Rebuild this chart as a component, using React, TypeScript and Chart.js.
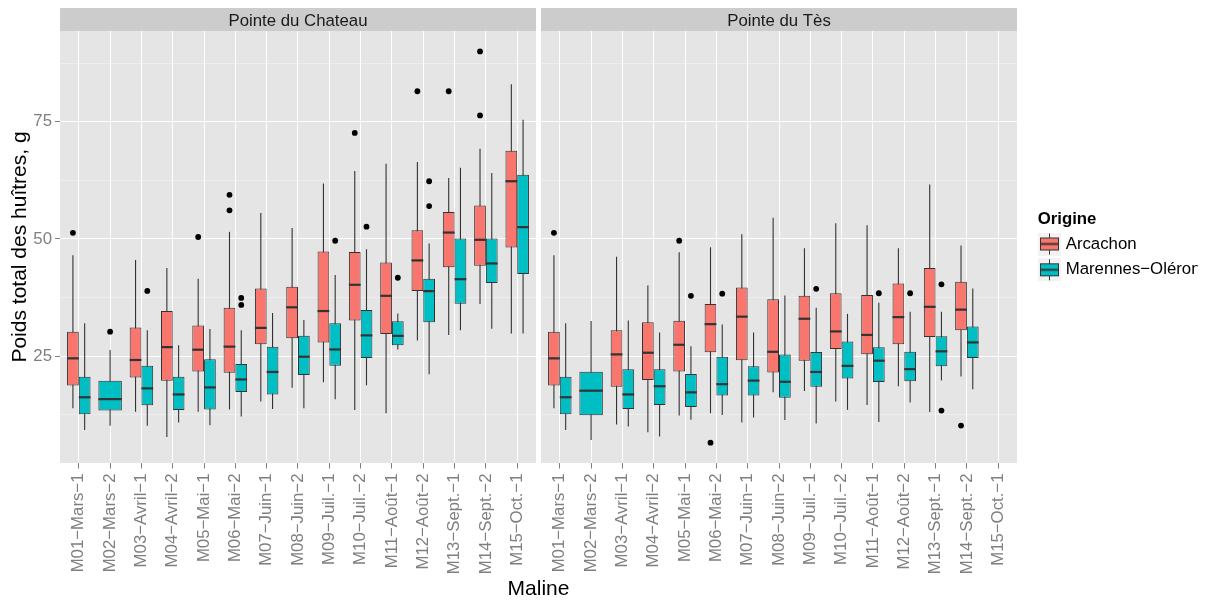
import { useEffect, useRef } from 'react';
import { Chart, registerables } from 'chart.js';

Chart.register(...registerables);

// [lower whisker, Q1, median, Q3, upper whisker]
type Box = [number, number, number, number, number] | null;

const maline = [
  'M01−Mars−1', 'M02−Mars−2', 'M03−Avril−1', 'M04−Avril−2', 'M05−Mai−1',
  'M06−Mai−2', 'M07−Juin−1', 'M08−Juin−2', 'M09−Juil.−1', 'M10−Juil.−2',
  'M11−Août−1', 'M12−Août−2', 'M13−Sept.−1', 'M14−Sept.−2', 'M15−Oct.−1',
];
const panelNames = ['Pointe du Chateau', 'Pointe du Tès'];
const origins = ['Arcachon', 'Marennes−Oléron'];
const yTickValues = [12.5, 25, 37.5, 50, 62.5, 75, 87.5];
const yLabelledValues = [25, 50, 75];

const chateauArcachon: Box[] = [
  [13.85, 18.7, 24.5, 30.2, 46.5],
  null,
  [13.1, 20.4, 24.15, 31.1, 45.5],
  [7.7, 19.7, 26.9, 34.6, 43.8],
  [13.1, 21.7, 26.35, 31.5, 41.5],
  [13.6, 21.45, 27.0, 35.3, 51.5],
  [15.3, 27.5, 31.0, 39.4, 55.5],
  [18.25, 28.8, 35.4, 39.8, 52.3],
  [19.4, 27.9, 34.6, 47.3, 61.8],
  [13.5, 32.6, 40.2, 47.2, 64.5],
  [12.8, 29.7, 37.85, 44.95, 66.05],
  [28.3, 38.85, 45.4, 51.85, 66.4],
  [29.5, 43.95, 51.35, 55.75, 63.0],
  [36.1, 44.25, 49.8, 57.1, 69.25],
  [29.8, 48.15, 62.3, 68.8, 83.0],
];
const chateauArcachonOutliers: number[][] = [
  [51.3], [], [], [], [50.4], [59.4, 56.1], [], [], [], [72.6], [], [81.5], [81.5], [90.0, 76.35], [],
];

const chateauMarennes: Box[] = [
  [9.2, 12.6, 16.2, 20.6, 32.0],
  [10.1, 13.35, 15.8, 19.7, 26.3],
  [10.1, 14.5, 18.1, 22.9, 30.5],
  [10.8, 13.5, 16.8, 20.6, 27.3],
  [10.2, 13.6, 18.3, 24.3, 30.75],
  [12.1, 17.3, 20.0, 23.3, 30.5],
  [13.7, 16.8, 21.6, 27.0, 34.2],
  [13.85, 20.95, 24.85, 29.3, 32.7],
  [15.8, 22.9, 26.4, 32.0, 42.3],
  [18.75, 24.6, 29.4, 34.8, 47.8],
  [26.4, 27.3, 29.3, 32.4, 34.1],
  [21.1, 32.2, 38.85, 41.5, 49.0],
  [30.5, 36.15, 41.4, 50.1, 65.2],
  [30.8, 40.6, 44.75, 50.1, 64.05],
  [29.8, 42.5, 52.5, 63.7, 75.4],
];
const chateauMarennesOutliers: number[][] = [
  [], [30.2], [38.9], [], [], [37.4, 35.9], [], [], [49.6], [52.6], [41.7], [62.3, 57.0], [], [], [],
];

const tesArcachon: Box[] = [
  [13.85, 18.7, 24.5, 30.2, 46.5],
  null,
  [10.4, 18.45, 25.35, 30.5, 46.2],
  [8.75, 19.9, 25.7, 32.2, 40.05],
  [12.3, 21.7, 27.4, 32.5, 47.15],
  [12.8, 25.8, 31.8, 36.1, 48.2],
  [10.8, 24.1, 33.4, 39.6, 51.0],
  [17.25, 21.5, 25.9, 37.1, 54.5],
  [17.55, 24.0, 32.95, 37.85, 48.0],
  [15.3, 26.5, 30.25, 38.4, 53.35],
  [14.55, 25.4, 29.5, 38.0, 52.9],
  [18.55, 27.5, 33.3, 40.5, 48.0],
  [13.05, 29.05, 35.5, 43.8, 61.6],
  [20.65, 30.5, 34.9, 40.85, 48.6],
  null,
];
const tesArcachonOutliers: number[][] = [
  [51.3], [], [], [], [49.6], [6.5], [], [], [], [], [], [], [], [10.15], [],
];

const tesMarennes: Box[] = [
  [9.2, 12.6, 16.2, 20.6, 32.0],
  [7.1, 12.35, 17.6, 21.65, 32.45],
  [9.95, 13.7, 16.8, 22.2, 32.6],
  [7.8, 14.55, 18.55, 22.2, 30.0],
  [11.4, 14.1, 17.25, 21.15, 27.1],
  [12.4, 16.55, 19.0, 24.85, 31.75],
  [11.9, 16.55, 19.75, 22.8, 30.0],
  [11.35, 16.1, 19.5, 25.35, 37.9],
  [10.6, 18.45, 21.6, 25.85, 35.3],
  [13.5, 20.2, 22.9, 28.1, 34.0],
  [10.9, 19.45, 24.0, 26.85, 36.35],
  [15.1, 19.6, 22.2, 25.9, 34.45],
  [19.8, 22.8, 26.0, 29.2, 34.45],
  [17.9, 24.6, 27.9, 31.3, 39.4],
  null,
];
const tesMarennesOutliers: number[][] = [
  [], [], [], [], [37.85], [38.3], [], [], [39.35], [], [38.4], [38.4], [40.3, 13.35], [], [],
];

// per origin: one array per facet panel (Chateau, Tès)
const boxesByOrigin = [
  [chateauArcachon, tesArcachon],
  [chateauMarennes, tesMarennes],
];
const outliersByOrigin = [
  [chateauArcachonOutliers, tesArcachonOutliers],
  [chateauMarennesOutliers, tesMarennesOutliers],
];

// facet layout on one continuous axis: each panel spans n-1 categories plus 0.6 on each side,
// and the panels are separated by a small gap (in category units)
const EXPAND = 0.6;
const PANEL_GAP = 0.16;
const FACET_OFFSET = maline.length - 1 + 2 * EXPAND + PANEL_GAP;
const facetX = (panel: number, i: number) => panel * FACET_OFFSET + i;

const fills = ['#F8766D', '#00BFC4'];
const outline = '#333333';
const axisGrey = '#7F7F7F';
const fontFamily = "'Liberation Sans', Arial, Helvetica, sans-serif";
const TARGET = { left: 60, top: 31, right: 1017, bottom: 463 };

Chart.defaults.font.family = fontFamily;

const isMajor = (v: any) => yLabelledValues.includes(Number(v));

type Point = { x: number; box: Box; out: number[] };
const pointsByOrigin: Point[][] = boxesByOrigin.map((panels, o) =>
  panels.flatMap((boxes, p) =>
    boxes.map((box, i) => ({ x: facetX(p, i), box, out: outliersByOrigin[o][p][i] })),
  ),
);
const tickPositions = panelNames.flatMap((_, p) => maline.map((_, i) => facetX(p, i)));

function eachBox(chart: any, fn: (x: number, w: number, b: number[], out: number[]) => void) {
  pointsByOrigin.forEach((pts, di) => {
    const meta = chart.getDatasetMeta(di);
    pts.forEach((pt, k) => {
      if (!pt.box) return;
      const el: any = meta.data[k];
      if (!el) return;
      fn(el.x, el.width, pt.box, pt.out);
    });
  });
}

const panelPlugin = {
  id: 'panelBackground',
  beforeDraw(chart: any) {
    const { ctx, chartArea } = chart;
    const x = chart.scales.x;
    ctx.save();
    ctx.fillStyle = '#E5E5E5';
    panelNames.forEach((_, p) => {
      const l = x.getPixelForValue(facetX(p, 0) - EXPAND);
      const r = x.getPixelForValue(facetX(p, maline.length - 1) + EXPAND);
      ctx.fillRect(l, chartArea.top, r - l, chartArea.bottom - chartArea.top);
    });
    ctx.restore();
  },
};

const boxPartsPlugin = {
  id: 'boxParts',
  beforeDatasetsDraw(chart: any) {
    const { ctx, chartArea } = chart;
    const x = chart.scales.x;
    const y = chart.scales.y;
    ctx.save();
    // white gutter between the two facets
    const gl = x.getPixelForValue(facetX(0, maline.length - 1) + EXPAND);
    const gr = x.getPixelForValue(facetX(1, 0) - EXPAND);
    ctx.fillStyle = '#FFFFFF';
    ctx.fillRect(gl, chartArea.top, gr - gl, chartArea.bottom - chartArea.top);
    ctx.strokeStyle = outline;
    ctx.lineWidth = 1.1;
    eachBox(chart, (bx, _w, b) => {
      ctx.beginPath();
      ctx.moveTo(bx, y.getPixelForValue(b[0]));
      ctx.lineTo(bx, y.getPixelForValue(b[4]));
      ctx.stroke();
    });
    ctx.restore();
  },
  afterDatasetsDraw(chart: any) {
    const { ctx } = chart;
    const y = chart.scales.y;
    ctx.save();
    ctx.strokeStyle = outline;
    ctx.lineWidth = 2.2;
    eachBox(chart, (bx, w, b) => {
      const py = y.getPixelForValue(b[2]);
      ctx.beginPath();
      ctx.moveTo(bx - w / 2, py);
      ctx.lineTo(bx + w / 2, py);
      ctx.stroke();
    });
    ctx.fillStyle = '#000000';
    eachBox(chart, (bx, _w, _b, out) => {
      out.forEach((v) => {
        ctx.beginPath();
        ctx.arc(bx, y.getPixelForValue(v), 2.9, 0, Math.PI * 2);
        ctx.fill();
      });
    });
    ctx.restore();
  },
};

function makeKey(fill: string) {
  const c = document.createElement('canvas');
  c.width = 40;
  c.height = 23;
  const g = c.getContext('2d')!;
  const o = 6;
  g.fillStyle = '#F2F2F2';
  g.fillRect(o, 0, 23, 23);
  g.strokeStyle = outline;
  g.lineWidth = 1;
  g.beginPath();
  g.moveTo(o + 11.5, 1);
  g.lineTo(o + 11.5, 22);
  g.stroke();
  g.fillStyle = fill;
  g.fillRect(o + 2.5, 5.5, 18, 12);
  g.strokeRect(o + 2.5, 5.5, 18, 12);
  g.lineWidth = 2;
  g.beginPath();
  g.moveTo(o + 2.5, 11.5);
  g.lineTo(o + 20.5, 11.5);
  g.stroke();
  return c;
}

function stripAxis(name: string, weight: number) {
  return {
    type: 'linear',
    axis: 'x',
    position: 'top',
    stack: 'topStrips',
    stackWeight: 476,
    weight,
    min: 0,
    max: 1,
    offset: false,
    backgroundColor: '#CCCCCC',
    grid: { display: false, drawTicks: false, offset: false },
    border: { display: false },
    ticks: { display: false },
    title: {
      display: true,
      text: name,
      color: '#1A1A1A',
      font: { size: 16.8, lineHeight: 1.2 },
      padding: { top: 2.8, bottom: 0 },
    },
    afterFit: (s: any) => {
      s.height = 23;
    },
  };
}

export default function App() {
  const ref = useRef<HTMLCanvasElement>(null);

  useEffect(() => {
    const canvas = ref.current;
    if (!canvas) return;
    const keys = fills.map(makeKey);
    const pad = { left: 0, top: 8, right: 11, bottom: 1 };

    const datasets = pointsByOrigin.map((pts, o) => ({
      type: 'bar',
      label: origins[o],
      xAxisID: 'x',
      yAxisID: 'y',
      data: pts.map((pt) => ({ x: pt.x, y: pt.box ? [pt.box[1], pt.box[3]] : null })),
      backgroundColor: fills[o],
      borderColor: outline,
      borderWidth: 1,
      borderSkipped: false,
      categoryPercentage: 0.75,
      barPercentage: 1,
      skipNull: true,
      grouped: true,
    }));

    const options: any = {
      animation: false,
      responsive: false,
      devicePixelRatio: 1,
      events: [],
      layout: { padding: pad },
      scales: {
        y: {
          type: 'linear',
          position: 'left',
          min: 2.17,
          max: 94.36,
          stacked: false,
          weight: 0,
          afterBuildTicks: (s: any) => {
            s.ticks = yTickValues.map((v) => ({ value: v }));
          },
          afterFit: (s: any) => {
            s.width = 60;
            s.paddingTop = 0;
            s.paddingBottom = 0;
          },
          grid: {
            color: (c: any) => (isMajor(c.tick?.value) ? '#FFFFFF' : '#F2F2F2'),
            lineWidth: (c: any) => (isMajor(c.tick?.value) ? 1 : 0.7),
            tickColor: (c: any) => (isMajor(c.tick?.value) ? axisGrey : 'rgba(0,0,0,0)'),
            tickLength: 5,
            tickWidth: 1,
            drawTicks: true,
          },
          border: { display: false },
          ticks: {
            autoSkip: false,
            padding: 3,
            color: axisGrey,
            font: { size: 16.8 },
            callback: (v: any) => (isMajor(v) ? String(v) : ''),
          },
          title: {
            display: true,
            text: 'Poids total des huîtres, g',
            color: '#000000',
            font: { size: 21, lineHeight: 1.2 },
            padding: { top: 7.4, bottom: 0 },
          },
        },
        yLegendGap: {
          type: 'linear',
          axis: 'y',
          position: 'right',
          min: 0,
          max: 1,
          grid: { display: false, drawTicks: false },
          border: { display: false },
          ticks: { display: false },
          afterFit: (s: any) => {
            s.width = 20.7;
          },
        },
        x: {
          type: 'linear',
          axis: 'x',
          position: 'bottom',
          min: -EXPAND,
          max: facetX(1, maline.length - 1) + EXPAND,
          offset: false,
          stacked: false,
          afterBuildTicks: (s: any) => {
            s.ticks = tickPositions.map((v) => ({ value: v }));
          },
          afterFit: (s: any) => {
            s.height = 112;
            s.paddingLeft = 0;
            s.paddingRight = 0;
          },
          grid: {
            offset: false,
            color: '#FFFFFF',
            lineWidth: 1,
            drawTicks: true,
            tickLength: 5.5,
            tickColor: axisGrey,
            tickWidth: 1,
          },
          border: { display: false },
          ticks: {
            autoSkip: false,
            minRotation: 90,
            maxRotation: 90,
            padding: 5,
            color: axisGrey,
            font: { size: 16.8 },
            callback: (_v: any, index: number) => maline[index % maline.length],
          },
        },
        strip1: stripAxis(panelNames[0], 3),
        stripGap: {
          type: 'linear',
          axis: 'x',
          position: 'top',
          stack: 'topStrips',
          stackWeight: 5,
          weight: 2,
          min: 0,
          max: 1,
          offset: false,
          grid: { display: false, drawTicks: false, offset: false },
          border: { display: false },
          ticks: { display: false },
        },
        strip2: stripAxis(panelNames[1], 1),
      },
      plugins: {
        tooltip: { enabled: false },
        title: {
          display: true,
          text: 'Maline',
          position: 'bottom',
          fullSize: false,
          color: '#000000',
          font: { size: 21, weight: 'normal', lineHeight: 1.2 },
          padding: { top: 1.8, bottom: 0 },
        },
        legend: {
          display: true,
          position: 'right',
          align: 'start',
          maxWidth: 160,
          onClick: () => {},
          title: {
            display: true,
            text: 'Origine',
            position: 'start',
            color: '#000000',
            font: { size: 16.8, weight: 'bold', lineHeight: 1 },
            padding: { top: 202.6, bottom: -0.8 },
          },
          labels: {
            usePointStyle: true,
            pointStyleWidth: 10.6,
            padding: 9,
            color: '#000000',
            font: { size: 16.8 },
            generateLabels: () =>
              origins.map((text, i) => ({
                text,
                pointStyle: keys[i],
                fillStyle: fills[i],
                strokeStyle: outline,
                lineWidth: 0,
                hidden: false,
                datasetIndex: i,
                fontColor: '#000000',
              })),
          },
        },
      },
    };

    const chart = new Chart(canvas, {
      type: 'bar',
      data: { datasets } as any,
      options,
      plugins: [panelPlugin, boxPartsPlugin],
    });

    for (let k = 0; k < 4; k++) {
      const a = chart.chartArea;
      const dl = TARGET.left - a.left;
      const dt = TARGET.top - a.top;
      const dr = a.right - TARGET.right;
      const db = a.bottom - TARGET.bottom;
      if (Math.max(Math.abs(dl), Math.abs(dt), Math.abs(dr), Math.abs(db)) < 0.05) break;
      pad.left += dl;
      pad.top += dt;
      pad.right += dr;
      pad.bottom += db;
      chart.update();
    }

    return () => chart.destroy();
  }, []);

  return (
    <div style={{ position: 'absolute', left: 0, top: 0, width: 1209, height: 603, background: '#FFFFFF' }}>
      <canvas ref={ref} width={1209} height={603} style={{ display: 'block', width: 1209, height: 603 }} />
    </div>
  );
}
